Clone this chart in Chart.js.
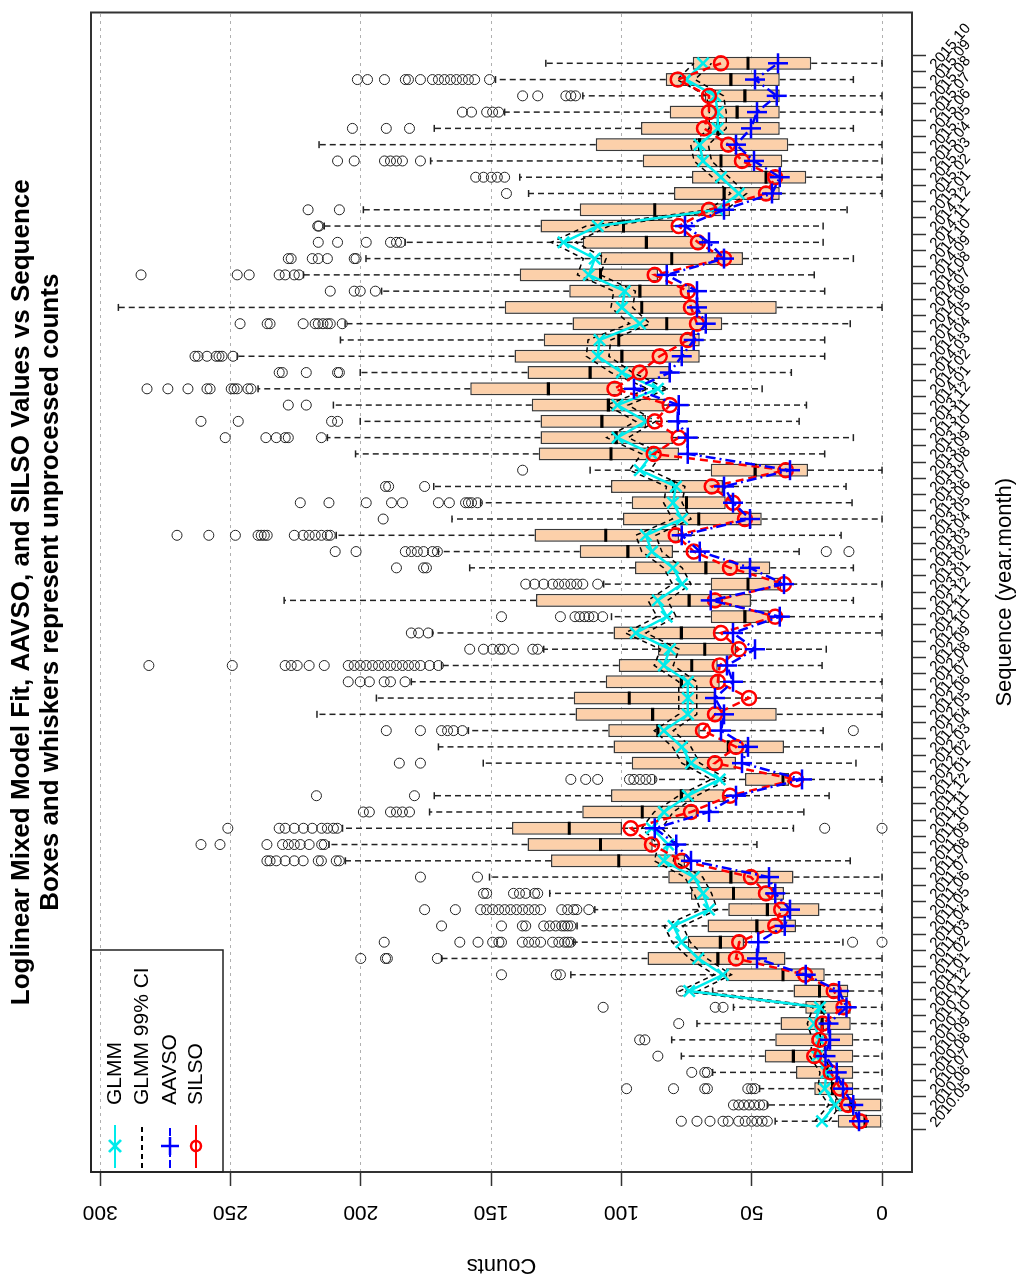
<!DOCTYPE html>
<html>
<head>
<meta charset="utf-8">
<script src="https://cdn.jsdelivr.net/npm/chart.js@4.4.0/dist/chart.umd.min.js"></script>
<style>
  html, body { margin: 0; padding: 0; background: #fff; overflow: hidden; }
  /* the R plot is drawn upright and then turned a quarter turn to the left */
  #wrap { position: absolute; left: 0; top: 0; width: 1281px; height: 1021px;
          transform-origin: 0 0; transform: translate(0, 1281px) rotate(-90deg); }
</style>
</head>
<body>
<div id="wrap"><canvas id="graphCanvas" width="1281" height="1021"></canvas></div>
<script>
const months = ['2010.05','2010.06','2010.07','2010.08','2010.09','2010.10','2010.11','2010.12',
  '2011.01','2011.02','2011.03','2011.04','2011.05','2011.06','2011.07','2011.08','2011.09','2011.10','2011.11','2011.12',
  '2012.01','2012.02','2012.03','2012.04','2012.05','2012.06','2012.07','2012.08','2012.09','2012.10','2012.11','2012.12',
  '2013.01','2013.02','2013.03','2013.04','2013.05','2013.06','2013.07','2013.08','2013.09','2013.10','2013.11','2013.12',
  '2014.01','2014.02','2014.03','2014.04','2014.05','2014.06','2014.07','2014.08','2014.09','2014.10','2014.11','2014.12',
  '2015.01','2015.02','2015.03','2015.04','2015.05','2015.06','2015.07','2015.08','2015.09','2015.10'];
const countTicks = [0, 50, 100, 150, 200, 250, 300];

// boxplot statistics (lower hinge, median, upper hinge, whisker ends)
const boxLow = [0, 0, 11, 11, 11, 11, 12, 12, 13, 22,
  37, 53, 33, 24, 37.6, 34, 75.6, 88, 99.8, 71,
  60.6, 35.7, 56, 37.6, 69.9, 40.4, 64.1, 62.3, 63, 56,
  64.1, 43.4, 50.3, 38.7, 42.9, 80.2, 77.9, 46.1, 60, 61,
  28.4, 77.9, 80.2, 90.6, 83.7, 99.8, 81.4, 69.9, 69.9, 61.3,
  40.4, 73.8, 86, 53.3, 68.7, 80.2, 58.3, 39.2, 29.1, 38.3,
  36, 39.2, 39.2, 39.2, 39.2, 27.2];
const boxMed = [6.5, 12, 19, 21, 34, 24, 23, 23, 24, 38,
  63, 62, 48, 44, 57, 58, 101, 108, 120, 92,
  77, 38, 74.5, 59, 86, 88, 97, 77, 73, 68,
  77, 52.6, 74, 51.4, 67.6, 97.5, 106, 70.3, 75, 80,
  48.7, 104, 102, 107.5, 105, 128, 112, 99.8, 101, 82.6,
  92.2, 92.9, 108, 80.7, 90.4, 99.2, 87.2, 60.6, 44.5, 61.8,
  70, 63, 55.6, 52.6, 58, 51.4];
const boxHigh = [17, 18, 26, 33, 45, 41, 39, 29.5, 34, 60,
  90, 74.5, 67, 59, 73.3, 82, 127, 136, 142, 115,
  104, 52.6, 96, 103, 105, 117.6, 118.3, 106, 101, 86,
  103, 65.7, 132.8, 65.7, 94.8, 116, 133.3, 99.4, 96, 104,
  65.7, 131.7, 131, 131, 134.4, 158, 136, 141, 129.8, 118.8,
  144.8, 120, 139, 108, 114.8, 131, 116, 79.8, 72.9, 91.8,
  109.8, 92.5, 81.4, 68, 83, 72.6];
const whiskLow = [0, 0, 0, 0, 0, 0, 0, 0, 0, 0,
  0, 15, 0, 0, 0, 0, 12.2, 48, 34, 30,
  20.3, 0, 10, 0, 22.6, 0, 0, 0, 23, 21.4,
  0, 0, 11, 0, 11, 31.8, 15.7, 0, 11.5, 13.8,
  0, 22, 11, 31.8, 29, 46, 34.8, 22, 22, 12.2,
  0, 22, 26, 11, 22.6, 22.6, 13.4, 0, 0, 0,
  0, 11, 0, 0, 11, 0];
const whiskHigh = [41, 44, 47, 65, 77, 80.7, 71, 57, 65, 119.4,
  169, 118.3, 117, 110.2, 127.5, 150.6, 205.9, 212.2, 207, 173.6,
  171.8, 87.2, 153, 170.2, 158.7, 216.8, 194, 180.6, 169, 129.8,
  172.5, 103.8, 229.4, 106.8, 158.2, 170.2, 209.4, 165, 154, 172,
  112, 202, 212.8, 200.2, 210.5, 239.4, 200.2, 247.4, 207.8, 206,
  293, 192, 222, 198, 183, 214, 199, 135.6, 139, 173.2,
  216, 171.8, 144.8, 114.8, 148.3, 129];

// outlying counts per month
const outliers = [
  [77, 71, 66, 61, 59, 55, 52.5, 50, 48, 46, 44],
  [57, 55, 53, 51, 49, 47, 45.5],
  [98, 80, 68, 67, 51.5, 50, 48.8],
  [73, 68, 67],
  [86],
  [93, 91],
  [78],
  [107, 64, 61],
  [77],
  [146, 125, 123.4],
  [200, 190.5, 189.8, 170.6],
  [191, 162, 155, 149.4, 147, 146, 138, 135.6, 133.3, 131, 126.4, 124, 121.8, 120.6, 119.4, 11.3, 0],
  [169, 146, 138, 136.7, 129.8, 127.5, 125.2, 122.9, 121.8, 120.6, 119.4],
  [175.5, 163.7, 154, 151.7, 149.4, 147.1, 144.8, 142.5, 140.2, 137.9, 135.6, 133.3, 131, 122.9, 120.6, 118.3, 117.1, 112.5],
  [152.9, 151.7, 141.4, 139.1, 136.7, 133.3, 132.1],
  [177.1, 155.2],
  [236, 234.8, 232.4, 229, 225.5, 222.1, 216.3, 215.1, 209.4, 208.2],
  [261.3, 254, 236, 230, 227.8, 225.5, 223.2, 219.8, 215, 214],
  [251, 231.3, 229, 225.5, 222, 218.6, 215, 212.8, 210.5, 209, 22, 0],
  [199, 196.7, 188.6, 186.3, 184, 181.3],
  [217, 179.4],
  [119.4, 113.7, 109.1, 96.9, 95.2, 92.9, 90.6, 88.3],
  [185.2, 177.1],
  [],
  [190.2, 177.1, 169, 166.7, 164.4, 161, 11],
  [],
  [],
  [204.8, 200.2, 196.7, 191, 188.6, 183],
  [281.3, 249.3, 229, 226.7, 224.4, 219.8, 214, 204.8, 202.5, 200.2, 197.9, 195.5, 193.2, 190.9, 188.6, 186.3, 184, 181.7, 179.4, 177.1, 173.6, 170.2],
  [158.2, 152.9, 149.4, 146.7, 145.3, 141.4, 134, 132.1],
  [180.6, 177.8, 174.1],
  [146, 123.4, 117.8, 116, 114.1, 112.5, 110.7, 107.2],
  [],
  [136.7, 133.3, 129.8, 126.4, 124.1, 121.8, 119.4, 117.1, 114.8, 109.1],
  [186.3, 175.9, 174.8],
  [209.8, 201.8, 182.9, 180.6, 178.3, 175.9, 172.5, 170.6, 21.4, 12.7],
  [270.5, 258.3, 248.1, 239.4, 238.2, 237, 235.9, 225.5, 222.1, 219.8, 217.5, 215.1, 212.8, 211.7],
  [191.4],
  [223.2, 212.2, 197.9, 188.2, 184, 170.2, 166, 159.8, 158.7, 157.5, 155.2],
  [190.5, 189.3, 175.5],
  [137.9],
  [],
  [252, 236.4, 232.4, 229, 227.8, 215.1],
  [261.3, 247, 211.2, 208.9],
  [227.8, 220.9],
  [282, 274, 266.3, 259, 257.8, 249.7, 248.6, 247.4, 243.3, 242.1],
  [231.3, 230.1, 220.9, 208.9, 208.2],
  [263.6, 262.4, 259, 255.5, 254.4, 253.2, 249],
  [],
  [246.3, 235.9, 234.8, 222.1, 217.5, 216.3, 214.5, 212.8, 211.7, 207.1],
  [],
  [211.7, 202.5, 200.2, 194.4],
  [284.3, 247.4, 242.8, 231.3, 229, 225.5, 223.7],
  [227.8, 226.7, 218.6, 216.3, 212.8, 202.5, 201.8],
  [216.3, 208.9, 197.9, 188.6, 186.3, 184.7],
  [216.5, 216],
  [220.2, 208.2],
  [144.1],
  [155.9, 152.9, 149.9, 147.6, 144.8],
  [208.9, 202.5, 190.9, 188.6, 186.3, 184, 177.1],
  [],
  [203.2, 190.2, 181.3],
  [161, 157.5, 151.7, 149.4, 147.1],
  [137.9, 132.1, 121.3, 119.4, 117.6],
  [201.3, 197.4, 190.9, 182.9, 181.7, 177.1, 172.5, 170.2, 167.9, 165.6, 163.3, 161, 158.7, 156.3, 150.6],
  []
];

// model fit and reference series
const glmm = [23, 18, 22, 21.3, 25, 24, 26, 23.8, 74, 61,
  70.5, 77, 80, 66.4, 68.7, 72.2, 83.7, 82, 88.3, 83.7,
  74.5, 62.3, 73.3, 76.8, 83.7, 74.5, 74.5, 74.5, 83.7, 81.4,
  94.5, 82.6, 86, 76.8, 80.2, 88.3, 90.6, 76.8, 80.2, 79.1,
  92.9, 88.3, 101.5, 90.6, 101.5, 86, 99.8, 109.1, 108.4, 92.9,
  99.8, 98.7, 112.5, 110.2, 122.2, 109.1, 63, 55, 61.8, 68.7,
  70, 63, 63, 64, 75.2, 68.7];
const ciLow = [20.5, 15.8, 19.6, 19, 22.5, 21.6, 23.5, 21.4, 70.5, 57.8,
  67.2, 73.6, 76.5, 63.2, 65.4, 68.8, 80.1, 78.4, 84.5, 80.1,
  71.1, 59.2, 69.9, 73.3, 80.1, 71.1, 71.1, 71.1, 80.1, 77.9,
  90.6, 79, 82.3, 73.3, 76.7, 84.5, 86.8, 73.3, 76.7, 75.6,
  89, 84.5, 97.4, 86.8, 97.4, 82.3, 95.7, 104.8, 104.1, 89,
  95.7, 94.6, 108.1, 105.9, 117.6, 104.8, 59.8, 52, 58.7, 65.4,
  66.7, 59.8, 59.8, 60.8, 71.8, 65.4];
const ciHigh = [25.7, 20.4, 24.6, 23.8, 27.7, 26.6, 28.7, 26.4, 77.6, 64.3,
  73.9, 80.5, 83.6, 69.7, 72.1, 75.7, 87.4, 85.7, 92.2, 87.4,
  78, 65.5, 76.8, 80.4, 87.4, 78, 78, 78, 87.4, 85,
  98.5, 86.3, 89.8, 80.4, 83.8, 92.2, 94.5, 80.4, 83.8, 82.7,
  96.9, 92.2, 105.7, 94.5, 105.7, 89.8, 104, 113.5, 112.8, 96.9,
  104, 102.9, 116.9, 114.6, 126.9, 113.5, 66.3, 58.1, 65, 72.1,
  73.4, 66.3, 66.3, 67.3, 78.7, 72.1];
const aavso = [8.8, 11, 15, 17.4, 21.7, 20, 20.5, 13.6, 16.5, 29.3,
  48, 47.5, 37.3, 35.3, 41, 43.4, 73.3, 79, 87.2, 66.4,
  56, 30.7, 53.7, 51.4, 61.8, 60.6, 64.1, 57.2, 59.5, 48.7,
  57.2, 39.2, 65.7, 37.6, 50.7, 69.9, 76.8, 50.7, 57.2, 60.6,
  35.3, 74.5, 74.5, 78.4, 78, 95.2, 81.4, 76.8, 72.2, 67.6,
  71, 71, 82.6, 60.6, 66.4, 75.6, 60.6, 42.2, 39.2, 49.1,
  56, 50.3, 48, 40.4, 48.7, 39.9];
const silso = [8.5, 13, 16, 19.7, 26, 24, 22.7, 14.8, 18.5, 29.5,
  56, 54.8, 41, 38.7, 44.5, 50.3, 76.8, 88.3, 96.4, 73.3,
  58.3, 33, 64.1, 56, 68.7, 64.1, 51, 63, 62.3, 54.9,
  61.8, 41, 64.1, 37.6, 58.3, 72.2, 79.1, 52.6, 57.2, 65.3,
  36.9, 87.6, 78, 87.2, 81.4, 102.6, 93, 85.3, 74.5, 71,
  73.3, 74.5, 87.2, 60.6, 70.6, 78, 66.4, 44.5, 41, 53.7,
  59, 68.3, 66.4, 66.4, 78.4, 61.8];

const FONT = '"Liberation Sans", Arial, Helvetica, sans-serif';
const CYAN = 'rgb(0,235,235)';
const BOX_FILL = 'rgb(252,208,170)';

function toPoints(arr) {
    return arr.map((v, i) => ({ x: i, y: v }));
}

const outlierPoints = [];
outliers.forEach((list, i) => list.forEach(v => outlierPoints.push({ x: i, y: v })));

// dashed whiskers with solid end staples, under the boxes
const whiskerPlugin = {
    id: 'whiskers',
    beforeDatasetsDraw(chart) {
        const { ctx, scales: { x, y } } = chart;
        ctx.save();
        ctx.strokeStyle = '#222';
        ctx.lineWidth = 1.5;
        months.forEach((m, i) => {
            const px = x.getPixelForValue(i);
            [[boxHigh[i], whiskHigh[i]], [boxLow[i], whiskLow[i]]].forEach(([from, to]) => {
                if (Math.abs(to - from) < 0.01) return;
                ctx.setLineDash([6, 4]);
                ctx.beginPath();
                ctx.moveTo(px, y.getPixelForValue(from));
                ctx.lineTo(px, y.getPixelForValue(to));
                ctx.stroke();
                ctx.setLineDash([]);
                const py = y.getPixelForValue(to);
                ctx.beginPath();
                ctx.moveTo(px - 3.5, py);
                ctx.lineTo(px + 3.5, py);
                ctx.stroke();
            });
        });
        ctx.restore();
    }
};

// frame, tick labels, title and legend in the R style
const decorPlugin = {
    id: 'decor',
    afterDraw(chart) {
        const { ctx, chartArea: a, scales: { x, y } } = chart;
        ctx.save();
        ctx.strokeStyle = '#333';
        ctx.lineWidth = 2;
        ctx.strokeRect(a.left, a.top, a.right - a.left, a.bottom - a.top);

        ctx.fillStyle = '#000';
        // count labels, parallel to the axis
        ctx.font = '21px ' + FONT;
        ctx.textAlign = 'center';
        ctx.textBaseline = 'middle';
        countTicks.forEach(v => {
            ctx.save();
            ctx.translate(a.left - 40, y.getPixelForValue(v));
            ctx.rotate(-Math.PI / 2);
            ctx.fillText(String(v), 0, 0);
            ctx.restore();
        });
        // month labels, slanted
        ctx.font = '15px ' + FONT;
        ctx.textAlign = 'left';
        months.forEach((m, i) => {
            ctx.save();
            ctx.translate(x.getPixelForValue(i) - 4, a.bottom + 21);
            ctx.rotate(40 * Math.PI / 180);
            ctx.fillText(m, 0, 0);
            ctx.restore();
        });
        // title
        const cx = (a.left + a.right) / 2;
        ctx.font = 'bold 26px ' + FONT;
        ctx.textAlign = 'center';
        ctx.fillText('Loglinear Mixed Model Fit, AAVSO, and SILSO Values vs Sequence', cx, 22);
        ctx.fillText('Boxes and whiskers represent unprocessed counts', cx, 51);

        // legend, top left of the plot region
        ctx.lineWidth = 1.5;
        ctx.strokeStyle = '#222';
        ctx.strokeRect(a.left, a.top, 222, 132);
        const rows = [
            { text: 'GLMM', color: CYAN, dash: [], mark: 'x' },
            { text: 'GLMM 99% CI', color: '#000', dash: [5, 4], mark: null },
            { text: 'AAVSO', color: '#00f', dash: [8, 3, 2, 3], mark: '+' },
            { text: 'SILSO', color: '#f00', dash: [], mark: 'o' }
        ];
        const rowY = [24, 51, 79, 105];
        ctx.font = '21px ' + FONT;
        ctx.textAlign = 'left';
        rows.forEach((r, k) => {
            const ly = a.top + rowY[k];
            const mx = a.left + 26;
            ctx.strokeStyle = r.color;
            ctx.lineWidth = 2;
            ctx.setLineDash(r.dash);
            ctx.beginPath();
            ctx.moveTo(a.left + 4, ly);
            ctx.lineTo(a.left + 47, ly);
            ctx.stroke();
            ctx.setLineDash([]);
            ctx.lineWidth = 2.5;
            ctx.beginPath();
            if (r.mark === 'x') {
                ctx.moveTo(mx - 6, ly - 6); ctx.lineTo(mx + 6, ly + 6);
                ctx.moveTo(mx - 6, ly + 6); ctx.lineTo(mx + 6, ly - 6);
            } else if (r.mark === '+') {
                ctx.moveTo(mx - 9, ly); ctx.lineTo(mx + 9, ly);
                ctx.moveTo(mx, ly - 9); ctx.lineTo(mx, ly + 9);
            } else if (r.mark === 'o') {
                ctx.arc(mx, ly, 5, 0, Math.PI * 2);
            }
            ctx.stroke();
            ctx.fillStyle = '#000';
            ctx.fillText(r.text, a.left + 67, ly);
        });
        ctx.restore();
    }
};

const ctx = document.getElementById('graphCanvas').getContext('2d');
const chart = new Chart(ctx, {
    type: 'bar',
    data: {
        datasets: [
            {
                type: 'bar',
                label: 'Counts',
                data: months.map((m, i) => ({ x: i, y: [boxLow[i], boxHigh[i]] })),
                backgroundColor: BOX_FILL,
                borderColor: '#3a3a3a',
                borderWidth: 1.5,
                borderSkipped: false,
                barPercentage: 0.8,
                categoryPercentage: 1,
                grouped: false,
                order: 10
            },
            {
                type: 'bar',
                label: 'Median',
                data: months.map((m, i) => ({ x: i, y: [boxMed[i] - 0.6, boxMed[i] + 0.6] })),
                backgroundColor: '#000',
                borderWidth: 0,
                barPercentage: 0.8,
                categoryPercentage: 1,
                grouped: false,
                order: 9
            },
            {
                type: 'scatter',
                label: 'Outliers',
                data: outlierPoints,
                pointStyle: 'circle',
                pointRadius: 5,
                pointBackgroundColor: 'rgba(0,0,0,0)',
                pointBorderColor: '#222',
                pointBorderWidth: 1,
                order: 8
            },
            {
                type: 'line',
                label: 'GLMM 99% CI low',
                data: toPoints(ciLow),
                borderColor: '#000',
                borderWidth: 1.5,
                borderDash: [5, 4],
                pointRadius: 0,
                fill: false,
                order: 6
            },
            {
                type: 'line',
                label: 'GLMM 99% CI high',
                data: toPoints(ciHigh),
                borderColor: '#000',
                borderWidth: 1.5,
                borderDash: [5, 4],
                pointRadius: 0,
                fill: false,
                order: 5
            },
            {
                type: 'line',
                label: 'GLMM',
                data: toPoints(glmm),
                borderColor: CYAN,
                borderWidth: 2.5,
                pointStyle: 'crossRot',
                pointRadius: 8,
                pointBorderColor: CYAN,
                pointBorderWidth: 2.5,
                fill: false,
                order: 4
            },
            {
                type: 'line',
                label: 'SILSO',
                data: toPoints(silso),
                borderColor: '#f00',
                borderWidth: 2.5,
                borderDash: [8, 5],
                pointStyle: 'circle',
                pointRadius: 7,
                pointBackgroundColor: 'rgba(0,0,0,0)',
                pointBorderColor: '#f00',
                pointBorderWidth: 2.5,
                fill: false,
                order: 3
            },
            {
                type: 'line',
                label: 'AAVSO',
                data: toPoints(aavso),
                borderColor: '#00f',
                borderWidth: 2.5,
                borderDash: [10, 4, 2, 4],
                pointStyle: 'cross',
                pointRadius: 10,
                pointBorderColor: '#00f',
                pointBorderWidth: 2.5,
                fill: false,
                order: 2
            }
        ]
    },
    options: {
        responsive: false,
        animation: false,
        devicePixelRatio: 1,
        layout: { padding: { top: 91, right: 3, bottom: 0, left: 0 } },
        plugins: {
            legend: { display: false },
            tooltip: { enabled: false }
        },
        scales: {
            x: {
                type: 'linear',
                min: -3.12,
                max: 68.12,
                offset: false,
                afterBuildTicks: s => { s.ticks = months.map((m, i) => ({ value: i })); },
                afterFit: s => { s.height = 109; },
                ticks: { display: false },
                grid: { drawOnChartArea: false, drawTicks: true, tickLength: 14, tickColor: '#333', tickWidth: 1.5 },
                border: { display: false },
                title: { display: true, text: 'Sequence (year.month)', color: '#000',
                         font: { family: FONT, size: 22 }, padding: { top: 4, bottom: 3 } }
            },
            y: {
                type: 'linear',
                min: -11.5,
                max: 303.5,
                afterBuildTicks: s => { s.ticks = countTicks.map(v => ({ value: v })); },
                afterFit: s => { s.width = 109; },
                ticks: { display: false },
                grid: { color: '#b0b0b0', lineWidth: 1, drawTicks: true, tickLength: 14,
                        tickColor: '#333', tickWidth: 1.5, tickBorderDash: [] },
                border: { display: false, dash: [3, 4] },
                title: { display: true, text: 'Counts', color: '#000',
                         font: { family: FONT, size: 22 }, padding: { top: 3, bottom: 0 } }
            }
        }
    },
    plugins: [whiskerPlugin, decorPlugin]
});
</script>
</body>
</html>
